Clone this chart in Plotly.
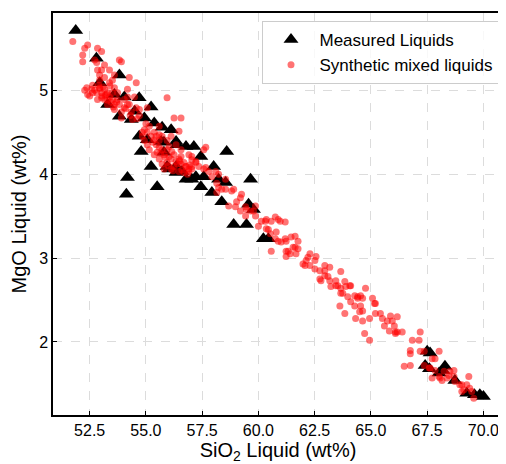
import plotly.graph_objects as go

# Measured liquids (black triangles)
meas_sio2 = [51.88, 52.8, 53.82, 52.95, 54.04, 54.7, 55.23, 53.3, 53.82, 54.35, 54.93, 55.37,
             56.12, 55.72, 54.7, 55.06, 55.8, 55.68, 56.34, 56.38, 56.78, 57.13, 54.79, 55.8,
             58.59, 57.44, 55.23, 55.94, 56.03, 56.34, 58.01, 56.34, 56.6, 54.18, 55.5, 54.13,
             59.65, 57.57, 57.04, 56.78, 57.22, 58.23, 58.54, 57.44, 57.93, 58.37, 59.56, 59.78,
             58.9, 59.47, 60.22, 60.44, 67.5, 67.63, 67.41, 68.29, 68.03, 68.73, 69.26, 69.6,
             69.84, 70.0, 67.6, 68.2, 54.5, 53.6]
meas_mgo = [5.71, 5.38, 5.18, 5.09, 4.92, 4.91, 4.80, 4.83, 4.69, 4.65, 4.67, 4.61,
            4.53, 4.56, 4.45, 4.41, 4.38, 4.39, 4.39, 4.35, 4.33, 4.33, 4.27, 4.26,
            4.27, 4.21, 4.09, 4.09, 4.06, 4.09, 4.09, 4.02, 4.03, 3.96, 3.85, 3.76,
            3.94, 3.97, 3.94, 3.94, 3.97, 3.94, 3.90, 3.85, 3.78, 3.67, 3.64, 3.58,
            3.40, 3.40, 3.23, 3.23, 1.89, 1.87, 1.72, 1.71, 1.63, 1.54, 1.39, 1.37,
            1.37, 1.35, 1.68, 1.66, 4.75, 4.95]

# Synthetic mixed liquids (red circles)
syn_sio2 = [
    51.75, 52.28, 52.41, 52.19, 52.19, 52.85, 53.03, 52.72, 52.81, 52.85, 53.82, 53.91, 54.26, 54.57,
    52.37, 52.59, 52.63, 52.5, 52.72, 52.81, 52.94, 53.03, 53.16, 53.03, 53.29, 53.16, 53.38, 53.51,
    53.29, 53.51, 53.6, 53.74, 53.38, 53.16, 52.94, 53.03, 53.16, 52.94, 53.6, 53.74, 54.18, 54.49,
    55.94, 56.25, 56.56, 56.47, 54.35, 54.71, 55.06, 54.4, 54.84, 55.15, 55.59, 55.46, 54.04, 53.91,
    53.82, 54.18, 54.04, 53.6, 53.91, 52.63, 52.28, 52.41, 52.85, 53.51, 53.6, 53.38,
    52.9, 53.1, 53.25, 53.45, 52.95, 53.2, 53.4, 53.05, 53.3, 53.55, 53.7, 54.1, 54.3, 54.6,
    55.46, 55.59, 55.72, 55.81, 55.94, 56.03, 56.12, 56.25, 56.34, 56.47, 56.56, 56.69, 56.78, 56.91,
    57.04, 55.59, 55.72, 55.81, 55.94, 56.12, 56.25, 56.47, 56.69, 57.22, 57.66, 58.23, 58.54, 58.81,
    59.25, 57.66, 55.06, 55.23, 55.37, 55.72, 55.94, 56.03, 56.12, 55.0, 54.93, 55.15, 55.37, 55.59,
    56.56, 56.34, 57.04, 54.84, 55.06, 55.37, 55.59, 54.93, 54.18, 54.26, 54.57, 54.71,
    55.5, 55.85, 56.0, 56.2, 56.4, 56.6, 56.85, 55.3, 55.65, 56.15, 56.5, 56.95,
    57.57, 56.56, 56.91, 57.04, 57.22, 56.78, 56.91, 57.04, 57.35, 57.57, 57.79, 57.93, 58.1, 58.15,
    58.23, 58.37, 58.54, 58.15, 58.9, 59.03, 58.68, 58.98, 59.2, 59.43, 59.2, 59.65, 59.87, 59.87,
    60.13, 60.35, 60.57, 60.75, 60.88, 61.19, 60.35, 60.53, 60.79, 60.75, 60.88, 61.19, 59.47, 59.78,
    59.43, 60.0, 60.31, 60.97, 60.44, 60.57, 61.23, 61.23,
    61.01, 61.23, 61.45, 61.63, 61.76, 61.32, 61.63, 61.76, 61.41, 61.67, 61.54, 61.98, 62.12, 62.2,
    62.29, 62.56, 62.07, 62.29, 62.51, 62.73, 62.95, 63.17, 62.73, 62.95, 63.09, 63.17, 62.78, 63.44,
    63.66, 63.22, 63.44, 63.66, 63.88, 64.1, 63.84, 63.75, 63.97, 64.28, 64.41, 64.63, 64.76, 63.62,
    63.84, 64.1, 64.28, 64.54, 64.63, 64.32, 64.63, 65.07, 65.16, 64.94, 65.2, 65.42, 65.51, 65.73,
    65.87, 65.95, 66.04, 66.17, 66.39, 65.6, 65.82, 66.09, 64.72, 64.94, 62.51, 62.95, 63.53, 63.66,
    64.06, 64.5, 64.41, 64.54, 65.2,
    66.84, 67.14, 67.19, 66.75, 66.75, 66.48, 66.75, 67.19, 67.37, 68.03, 67.37, 67.59, 67.72, 68.03,
    68.25, 68.47, 68.69, 68.69, 68.16, 69.04, 69.35, 69.26, 69.04, 69.48, 69.57, 67.72, 67.85, 68.07,
    68.38, 68.51, 68.73, 68.95, 69.13, 69.39, 67.63, 67.85, 66.09, 66.17,
]
syn_mgo = [
    5.58, 5.50, 5.54, 5.42, 5.34, 5.50, 5.46, 5.36, 5.33, 5.24, 5.36, 5.34, 5.15, 5.09,
    5.03, 5.01, 4.97, 4.93, 5.00, 4.97, 5.03, 4.97, 5.01, 4.91, 4.97, 4.89, 4.92, 4.97,
    4.83, 4.89, 4.83, 4.89, 5.09, 5.15, 5.18, 5.24, 5.30, 5.12, 5.03, 4.97, 5.01, 4.92,
    4.91, 4.67, 4.67, 4.51, 4.74, 4.77, 4.79, 4.65, 4.50, 4.57, 4.57, 4.45, 4.79, 4.74,
    4.83, 4.83, 4.89, 4.77, 4.67, 5.06, 5.00, 4.95, 4.89, 5.12, 5.18, 5.24,
    5.06, 5.04, 4.95, 4.86, 5.02, 4.94, 5.05, 4.93, 4.88, 4.80, 4.86, 4.78, 4.70, 4.66,
    4.35, 4.32, 4.29, 4.23, 4.29, 4.21, 4.18, 4.23, 4.15, 4.18, 4.12, 4.14, 4.09, 4.06,
    4.09, 4.18, 4.12, 4.06, 4.14, 4.06, 4.09, 4.03, 4.02, 4.14, 4.08, 4.00, 3.94, 3.80,
    3.76, 4.32, 4.35, 4.45, 4.50, 4.45, 4.40, 4.33, 4.45, 4.60, 4.40, 4.29, 4.23, 4.40,
    4.29, 4.35, 4.21, 4.45, 4.50, 4.41, 4.47, 4.53, 4.92, 4.83, 4.79, 4.70,
    4.26, 4.20, 4.10, 4.04, 4.12, 4.05, 4.00, 4.38, 4.25, 4.27, 4.16, 4.11,
    4.29, 4.21, 4.23, 4.17, 4.15, 4.09, 4.03, 4.06, 4.09, 4.06, 4.03, 3.97, 4.03, 3.89,
    3.84, 3.82, 3.82, 3.78, 3.82, 3.67, 3.62, 3.61, 3.72, 3.61, 3.56, 3.56, 3.62, 3.50,
    3.44, 3.46, 3.44, 3.49, 3.46, 3.43, 3.35, 3.29, 3.31, 3.23, 3.20, 3.23, 3.58, 3.56,
    3.50, 3.38, 3.44, 3.44, 3.34, 3.08, 3.08, 3.02,
    3.19, 3.20, 3.25, 3.26, 3.20, 3.08, 3.13, 3.11, 3.05, 3.05, 3.13, 2.93, 2.97, 3.01,
    3.05, 3.02, 2.91, 2.91, 2.87, 2.85, 2.85, 2.89, 2.75, 2.79, 2.78, 2.73, 2.73, 2.73,
    2.84, 2.66, 2.67, 2.64, 2.66, 2.67, 2.72, 2.58, 2.54, 2.55, 2.54, 2.52, 2.64, 2.43,
    2.34, 2.48, 2.43, 2.43, 2.37, 2.28, 2.25, 2.52, 2.46, 2.28, 2.34, 2.34, 2.28, 2.25,
    2.31, 2.25, 2.19, 2.30, 2.12, 2.19, 2.13, 2.12, 2.10, 2.02, 2.97, 2.91, 2.67, 2.58,
    2.67, 2.36, 2.52, 2.55, 2.46,
    2.02, 2.02, 2.12, 1.90, 1.86, 1.71, 1.72, 1.89, 1.89, 1.89, 1.72, 1.69, 1.57, 1.59,
    1.65, 1.60, 1.66, 1.59, 1.54, 1.49, 1.59, 1.49, 1.41, 1.41, 1.33, 1.80, 1.80, 1.57,
    1.57, 1.65, 1.53, 1.49, 1.43, 1.45, 1.69, 1.66, 2.10, 2.12,
]

fig = go.Figure()
fig.add_trace(go.Scatter(
    x=meas_sio2, y=meas_mgo, mode="markers", name="Measured Liquids",
    marker=dict(symbol="triangle-up", size=13, color="black", line=dict(width=0)),
))
fig.add_trace(go.Scatter(
    x=syn_sio2, y=syn_mgo, mode="markers", name="Synthetic mixed liquids",
    marker=dict(symbol="circle", size=7, color="rgba(255,0,0,0.55)",
                line=dict(width=0)),
))

axis_common = dict(
    showline=True, linecolor="black", linewidth=1.5, mirror=True,
    ticks="inside", ticklen=4, tickcolor="black",
    showgrid=True, gridcolor="#dcdcdc", griddash="dash", gridwidth=1,
    zeroline=False, tickfont=dict(size=16, color="black"), automargin=False,
)

fig.update_xaxes(
    range=[50.87, 70.87], tickvals=[52.5, 55, 57.5, 60, 62.5, 65, 67.5, 70],
    ticktext=["52.5", "55.0", "57.5", "60.0", "62.5", "65.0", "67.5", "70.0"],
    title=dict(text="SiO<sub>2</sub> Liquid (wt%)", font=dict(size=20, color="black"), standoff=1),
    **axis_common,
)
fig.update_yaxes(
    range=[1.13, 5.92], tickvals=[2, 3, 4, 5],
    title=dict(text="MgO Liquid (wt%)", font=dict(size=20, color="black"), standoff=7),
    **axis_common,
)

# page body has an 8px margin, so the figure is 8px smaller than the window
fig.update_layout(
    width=498, height=456,
    margin=dict(l=45, r=3, t=5, b=49),
    plot_bgcolor="white", paper_bgcolor="white",
    font=dict(family="Liberation Sans, Arial, sans-serif", size=16, color="black"),
    legend=dict(
        x=0.99, y=0.98, xanchor="right", yanchor="top",
        bgcolor="rgba(255,255,255,0.8)", bordercolor="#cccccc", borderwidth=1,
        font=dict(size=17), itemsizing="trace", itemwidth=47, tracegroupgap=0,
    ),
)

fig.write_html("out.html")
